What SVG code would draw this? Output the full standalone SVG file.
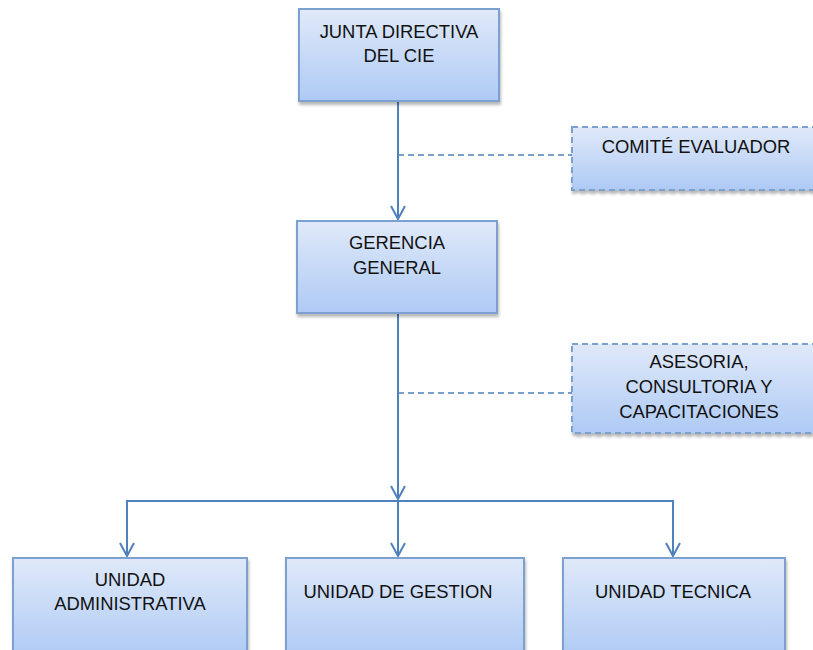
<svg xmlns="http://www.w3.org/2000/svg" width="813" height="650" viewBox="0 0 813 650">
  <defs>
    <linearGradient id="boxFill" x1="0" y1="0" x2="0" y2="1">
      <stop offset="0" stop-color="#e0e9f9"/>
      <stop offset="1" stop-color="#aecaf5"/>
    </linearGradient>
    <filter id="shadow" x="-10%" y="-10%" width="130%" height="130%">
      <feDropShadow dx="1" dy="3" stdDeviation="1.5" flood-color="#000" flood-opacity="0.28"/>
    </filter>
    <marker id="arrow" markerUnits="userSpaceOnUse" markerWidth="18" markerHeight="18" viewBox="-16 -9 18 18" refX="0" refY="0" orient="auto">
      <path d="M-13,-7 L0,0 L-13,7" fill="none" stroke="#4f81bd" stroke-width="2"/>
    </marker>
  </defs>
  <style>
    .box { fill: url(#boxFill); stroke: #7ba0d0; stroke-width: 2; filter: url(#shadow); }
    .dashed { stroke-dasharray: 6 4; }
    .label { font-family: "Liberation Sans", Arial, sans-serif; font-size: 18.4px; fill: #111; text-anchor: middle; }
    .link { fill: none; stroke: #4f81bd; stroke-width: 2; }
    .aux { fill: none; stroke: #4f81bd; stroke-width: 1.5; stroke-dasharray: 6 4; }
  </style>

  <rect width="813" height="650" fill="#ffffff"/>

  <!-- connectors -->
  <g id="connectors">
    <path class="link" d="M398,101 V219" marker-end="url(#arrow)"/>
    <path class="aux" d="M398,155 H572"/>
    <path class="aux" d="M398,393 H572"/>
    <path class="link" d="M398,313 V499" marker-end="url(#arrow)"/>
    <path class="link" d="M127,501 H673"/>
    <path class="link" d="M398,501 V556" marker-end="url(#arrow)"/>
    <path class="link" d="M127,500 V556" marker-end="url(#arrow)"/>
    <path class="link" d="M673,500 V556" marker-end="url(#arrow)"/>
  </g>

  <g id="junta-directiva">
    <rect class="box" x="299" y="9" width="200" height="92"/>
    <text class="label" x="399" y="38">JUNTA DIRECTIVA</text>
    <text class="label" x="399" y="62">DEL CIE</text>
  </g>

  <g id="comite-evaluador">
    <rect class="box dashed" x="572" y="127" width="260" height="63"/>
    <text class="label" x="696" y="153">COMITÉ EVALUADOR</text>
  </g>

  <g id="gerencia-general">
    <rect class="box" x="297" y="221" width="200" height="92"/>
    <text class="label" x="397" y="249">GERENCIA</text>
    <text class="label" x="397" y="274">GENERAL</text>
  </g>

  <g id="asesoria">
    <rect class="box dashed" x="572" y="344" width="260" height="89"/>
    <text class="label" x="699" y="368">ASESORIA,</text>
    <text class="label" x="699" y="393">CONSULTORIA Y</text>
    <text class="label" x="699" y="418">CAPACITACIONES</text>
  </g>

  <g id="unidad-administrativa">
    <rect class="box" x="13" y="558" width="234" height="100"/>
    <text class="label" x="130" y="586">UNIDAD</text>
    <text class="label" x="130" y="610">ADMINISTRATIVA</text>
  </g>

  <g id="unidad-gestion">
    <rect class="box" x="286" y="558" width="238" height="100"/>
    <text class="label" x="398" y="598">UNIDAD DE GESTION</text>
  </g>

  <g id="unidad-tecnica">
    <rect class="box" x="563" y="558" width="222" height="100"/>
    <text class="label" x="673" y="598">UNIDAD TECNICA</text>
  </g>
</svg>
